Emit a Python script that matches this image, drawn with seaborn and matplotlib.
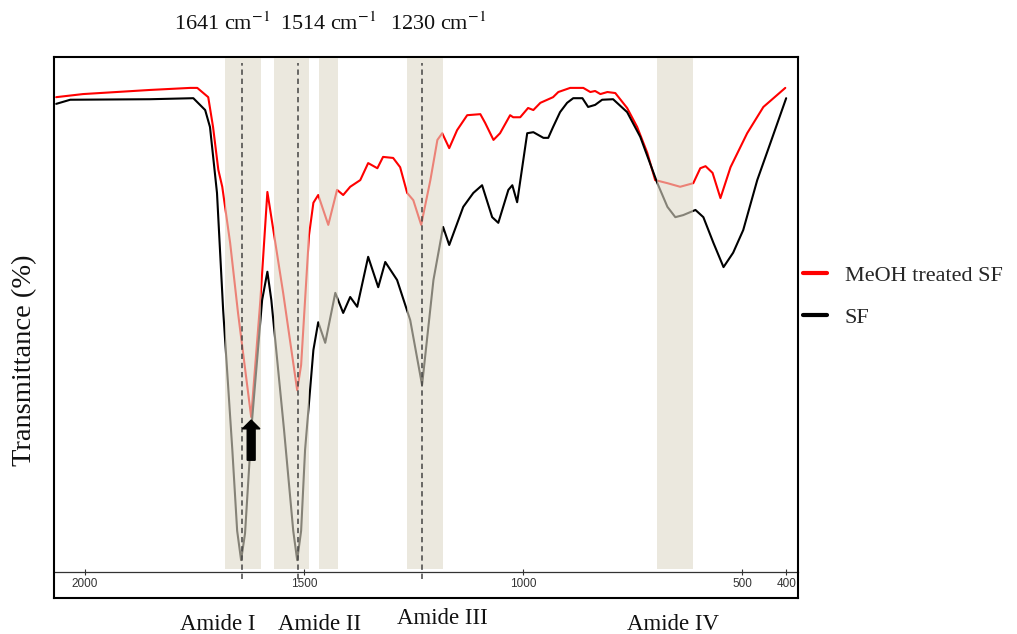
import numpy as np
import pandas as pd
import matplotlib
matplotlib.use("Agg")
import matplotlib.pyplot as plt
import seaborn as sns

# ---------------- data ----------------
meoh_wn = [2066, 2005, 1852, 1760, 1744, 1719, 1708, 1696, 1687, 1669, 1651, 1621,
           1600, 1584, 1548, 1516, 1507, 1498, 1489, 1479, 1468, 1445, 1425, 1411,
           1395, 1372, 1354, 1333, 1320, 1297, 1281, 1265, 1251, 1233, 1212, 1196,
           1185, 1169, 1151, 1128, 1098, 1087, 1068, 1053, 1030, 1023, 1007, 989,
           977, 961, 932, 920, 893, 863, 847, 836, 824, 808, 790, 763, 740, 717,
           699, 671, 642, 612, 596, 584, 568, 550, 527, 489, 452, 429, 402]
meoh_T = [92.2, 92.8, 93.6, 94.0, 94.0, 92.2, 86.4, 78.1, 74.8, 63.9, 50.3, 30.1,
          52.8, 73.8, 54.2, 35.3, 40.2, 52.8, 65.4, 71.7, 73.2, 67.4, 74.2, 73.2,
          74.8, 76.1, 79.4, 78.4, 80.6, 80.4, 78.6, 73.6, 72.2, 67.4, 76.1, 83.9,
          85.2, 82.3, 85.8, 88.7, 88.9, 87.2, 83.9, 85.2, 88.7, 88.3, 88.3, 90.1,
          89.7, 91.1, 92.2, 93.2, 94.0, 94.0, 93.2, 93.4, 92.8, 93.2, 93.0, 90.1,
          86.4, 81.4, 76.1, 75.5, 74.8, 75.5, 78.4, 78.8, 77.5, 72.6, 78.6, 85.2,
          90.3, 92.0, 94.0]

sf_wn = [2066, 2034, 1852, 1753, 1726, 1715, 1699, 1685, 1664, 1653, 1644, 1635,
         1619, 1596, 1584, 1575, 1546, 1525, 1516, 1507, 1498, 1479, 1468, 1452,
         1429, 1411, 1395, 1379, 1354, 1331, 1315, 1288, 1258, 1231, 1205, 1183,
         1169, 1137, 1114, 1094, 1071, 1057, 1034, 1025, 1014, 991, 977, 954, 943,
         932, 916, 900, 886, 865, 852, 836, 820, 795, 763, 733, 694, 671, 653,
         635, 607, 589, 566, 543, 521, 498, 466, 436, 400]
sf_T = [90.9, 91.7, 91.8, 92.0, 89.7, 86.4, 73.6, 50.9, 23.7, 8.0, 2.3, 7.5,
        29.5, 52.8, 58.3, 52.8, 27.6, 8.0, 2.3, 8.0, 23.7, 43.1, 48.5, 44.5,
        54.2, 50.3, 53.4, 51.5, 61.2, 55.3, 60.2, 56.7, 48.9, 36.3, 56.7, 67.0,
        63.5, 70.9, 73.6, 75.1, 68.9, 67.8, 74.2, 75.1, 71.8, 85.2, 85.4, 84.3,
        84.3, 86.4, 89.3, 91.1, 92.0, 92.0, 90.3, 90.7, 91.7, 91.8, 89.3, 84.5,
        75.5, 70.9, 68.9, 69.3, 70.3, 68.9, 63.9, 59.2, 62.0, 66.4, 76.1, 83.3,
        92.0]

series_names = ["MeOH treated SF", "SF"]
series_colors = ["#ff0000", "#000000"]

band_lo = [1598, 1489, 1422, 1183, 612]
band_hi = [1680, 1568, 1466, 1265, 694]

peak_wn = [1641, 1514, 1230]
peak_labels = ["1641 cm$^{-1}$", "1514 cm$^{-1}$", "1230 cm$^{-1}$"]

amide_labels = ["Amide I", "Amide II", "Amide III", "Amide IV"]

xtick_vals = [2000, 1500, 1000, 500, 400]
xtick_labels = ["2000", "1500", "1000", "500", "400"]

arrow_wn = 1621
arrow_T = [21.7, 29.5]

# ---------------- style ----------------
sns.set_theme(style="white")
plt.rcParams["font.family"] = ["Liberation Serif", "DejaVu Serif"]
plt.rcParams["mathtext.fontset"] = "stix"

W, H = 1017, 634
fig = plt.figure(figsize=(W / 100, H / 100), dpi=100)
ax = fig.add_axes([54 / W, 1 - 598 / H, (798 - 54) / W, (598 - 57) / H])

df = pd.concat([
    pd.DataFrame({"wn": meoh_wn, "T": meoh_T, "sample": series_names[0]}),
    pd.DataFrame({"wn": sf_wn, "T": sf_T, "sample": series_names[1]}),
])

sns.lineplot(data=df, x="wn", y="T", hue="sample", hue_order=series_names,
             palette=dict(zip(series_names, series_colors)), sort=False,
             estimator=None, linewidth=1.5, ax=ax, zorder=2)

ax.set_xlim(2071, 373)
ax.set_ylim(-5.05, 100)

# shaded bands (drawn over lines, semi-transparent)
y0 = (598 - 569) / 541
y1 = (598 - 58) / 541
for lo, hi in zip(band_lo, band_hi):
    ax.axvspan(lo, hi, ymin=y0, ymax=y1, color="#dfdac8", alpha=0.6,
               lw=0, zorder=3)

# dashed peak lines
ax.vlines(peak_wn, -1.3, 98.8, colors="#444444", linestyles=(0, (3.5, 2.5)),
          linewidth=1.1, zorder=4)

# arrow
ax.arrow(arrow_wn, arrow_T[0], 0, arrow_T[1] - arrow_T[0], width=18,
         head_width=40, head_length=1.7, length_includes_head=True,
         color="black", zorder=5)

# axes styling
ax.set_xlabel("")
ax.set_ylabel("")
ax.set_xticks([])
ax.set_yticks([])
for s in ax.spines.values():
    s.set_visible(True)
    s.set_color("black")
    s.set_linewidth(1.5)

sec = ax.secondary_xaxis((598 - 572) / 541)
sec.set_xticks(xtick_vals)
sec.set_xticklabels(xtick_labels, fontfamily="Liberation Sans")
sec.tick_params(axis="x", direction="inout", length=4, width=0.8,
                labelsize=8.5, colors="#333333", pad=2)
sec.spines["bottom"].set_linewidth(0.9)
sec.spines["bottom"].set_color("#333333")

ax.text(-0.039, (598 - 360) / 541, "Transmittance (%)", transform=ax.transAxes,
        rotation=90, ha="center", va="center", fontsize=20.5, color="#111111")

# legend
sns.move_legend(ax, "upper left", bbox_to_anchor=(0.9946, 0.632), frameon=False,
                title=None, fontsize=16, handlelength=1.1, handletextpad=0.78,
                labelspacing=0.98, borderaxespad=0)
for h in ax.get_legend().legend_handles:
    h.set_linewidth(3)

# top peak labels
for lbl, px in zip(peak_labels, [222, 328, 438]):
    fig.text(px / W, 1 - 24 / H, lbl, ha="center", va="center", fontsize=16,
             color="#111111")

# bottom amide labels
for lbl, px, py in zip(amide_labels, [218, 320, 442, 673], [624, 624, 619, 624]):
    fig.text(px / W, 1 - py / H, lbl, ha="center", va="center", fontsize=16.5,
             color="#111111")

fig.savefig("out.png", dpi=100)
